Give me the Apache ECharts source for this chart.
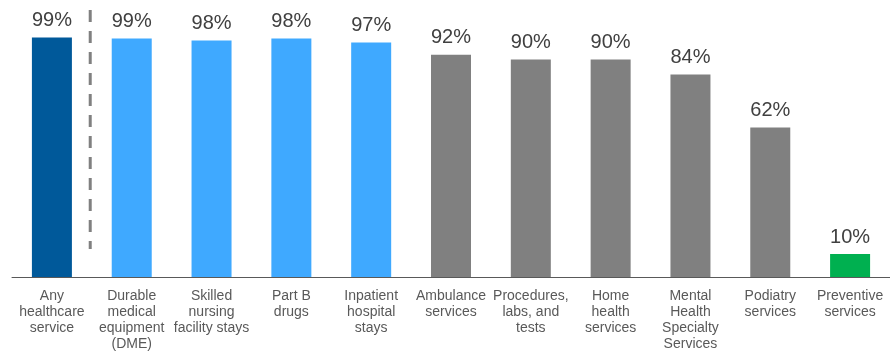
<!DOCTYPE html>
<html>
<head>
<meta charset="utf-8">
<script src="https://cdn.jsdelivr.net/npm/echarts@6/dist/echarts.min.js"></script>
<style>
html,body{margin:0;padding:0;background:#fff;}
#c{width:890px;height:354px;}
</style>
</head>
<body>
<div id="c"></div>
<script>
const categories = [
  "Any\nhealthcare\nservice",
  "Durable\nmedical\nequipment\n(DME)",
  "Skilled\nnursing\nfacility stays",
  "Part B\ndrugs",
  "Inpatient\nhospital\nstays",
  "Ambulance\nservices",
  "Procedures,\nlabs, and\ntests",
  "Home\nhealth\nservices",
  "Mental\nHealth\nSpecialty\nServices",
  "Podiatry\nservices",
  "Preventive\nservices"
];
const values = [99.0, 98.6, 97.7, 98.6, 96.9, 91.9, 89.9, 89.9, 83.7, 61.8, 9.5];
const valueLabels = ["99%", "99%", "98%", "98%", "97%", "92%", "90%", "90%", "84%", "62%", "10%"];
const barColors = ["#00599A", "#3FA9FF", "#3FA9FF", "#3FA9FF", "#3FA9FF", "#808080", "#808080", "#808080", "#808080", "#808080", "#00B050"];
const dividerX = [0.48, 0.48];
const dividerY = [110.3, 11.6];

const chart = echarts.init(document.getElementById('c'), null, {renderer: 'canvas'});
chart.setOption({
  animation: false,
  grid: {left: 12, right: -2, top: 6, bottom: 77},
  xAxis: [{
    type: 'category',
    data: categories,
    axisTick: {show: false},
    axisLine: {lineStyle: {color: '#595959', width: 1}},
    axisLabel: {
      interval: 0,
      margin: 11,
      color: '#595959',
      fontFamily: 'Liberation Sans, Arial, sans-serif',
      fontSize: 14,
      lineHeight: 16,
      verticalAlign: 'top'
    }
  }, {
    type: 'value',
    min: -0.5,
    max: 10.5,
    show: false
  }],
  yAxis: {
    type: 'value',
    min: 0,
    max: 112,
    show: false,
    splitLine: {show: false}
  },
  series: [{
    type: 'bar',
    barWidth: 40,
    data: values.map((v, i) => ({value: v, itemStyle: {color: barColors[i]}})),
    label: {
      show: true,
      position: 'top',
      distance: 7,
      color: '#404040',
      fontFamily: 'Liberation Sans, Arial, sans-serif',
      fontSize: 20,
      formatter: p => valueLabels[p.dataIndex]
    }
  }, {
    type: 'line',
    xAxisIndex: 1,
    clip: false,
    symbol: 'none',
    data: dividerX.map((x, i) => [x, dividerY[i]]),
    lineStyle: {color: '#808080', width: 3, type: [12, 9]}
  }]
});
</script>
</body>
</html>
